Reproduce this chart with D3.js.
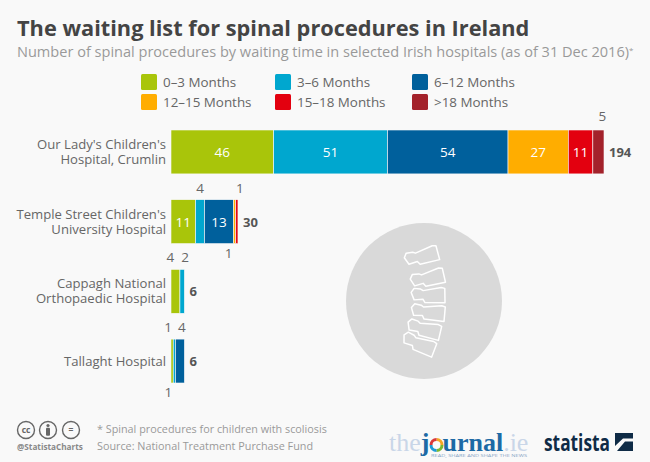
<!DOCTYPE html>
<html>
<head>
    <meta charset="utf-8">
    <title>The waiting list for spinal procedures in Ireland</title>
    <script src="https://cdnjs.cloudflare.com/ajax/libs/d3/7.8.5/d3.min.js"></script>
</head>
<style media="screen">
    html, body { margin: 0; padding: 0; background: #f9f9f9; }
    svg { display: block; }
    text { font-family: "Open Sans", sans-serif; }
</style>

<body>
    <script>
        var hospitals = ["crumlin", "temple", "cappagh", "tallaght"];
        var hospitalLines = [
            ["Our Lady's Children's", "Hospital, Crumlin"],
            ["Temple Street Children's", "University Hospital"],
            ["Cappagh National", "Orthopaedic Hospital"],
            ["Tallaght Hospital"]
        ];
        var waits = ["0–3 Months", "3–6 Months", "6–12 Months", "12–15 Months", "15–18 Months", ">18 Months"];
        var colors = ["#a9c50a", "#00a7cf", "#00609c", "#ffad00", "#e3000f", "#a3222b"];

        var v0to3 = [46, 11, 4, 1];
        var v3to6 = [51, 4, 2, 1];
        var v6to12 = [54, 13, 0, 4];
        var v12to15 = [27, 1, 0, 0];
        var v15to18 = [11, 1, 0, 0];
        var v18plus = [5, 0, 0, 0];
        var totals = [194, 30, 6, 6];

        var w = 650, h = 462;
        var svg = d3.select("body").append("svg").attr("width", w).attr("height", h);

        svg.append("text").attr("x", 17).attr("y", 36)
            .attr("font-size", 21.75).attr("font-weight", 700).attr("fill", "#444")
            .text("The waiting list for spinal procedures in Ireland");
        var subtitle = svg.append("text").attr("x", 17).attr("y", 57)
            .attr("font-size", 14.55).attr("fill", "#999")
            .text("Number of spinal procedures by waiting time in selected Irish hospitals (as of 31 Dec 2016)");
        subtitle.append("tspan").attr("font-size", 8).attr("dy", -4).text("*");

        // legend
        var legendX = d3.scaleOrdinal().domain([0, 1, 2]).range([141, 275, 412]);
        var legend = svg.selectAll(".legend").data(waits).enter().append("g")
            .attr("class", "legend")
            .attr("transform", function(d, i) {
                return "translate(" + legendX(i % 3) + "," + (i < 3 ? 74 : 94) + ")";
            });
        legend.append("rect").attr("width", 16).attr("height", 16).attr("rx", 1.5)
            .attr("fill", function(d, i) { return colors[i]; });
        legend.append("text").attr("x", 22).attr("y", 13)
            .attr("font-size", 13.4).attr("fill", "#666")
            .text(function(d) { return d; });

        // scales
        var x = d3.scaleLinear().domain([0, 194]).range([171, 604]);
        var y = d3.scaleBand().domain(hospitals).range([130, 383]).paddingInner(0.37);

        var table = hospitals.map(function(h, i) {
            return { key: h, a: v0to3[i], b: v3to6[i], c: v6to12[i], d: v12to15[i], e: v15to18[i], f: v18plus[i] };
        });
        var series = d3.stack().keys(["a", "b", "c", "d", "e", "f"])(table);

        var layers = svg.selectAll(".layer").data(series).enter().append("g")
            .attr("class", "layer")
            .attr("fill", function(d, i) { return colors[i]; });

        layers.selectAll("rect").data(function(d) { return d.filter(function(p) { return p[1] > p[0]; }); })
            .enter().append("rect")
            .attr("x", function(d) { return x(d[0]); })
            .attr("y", function(d) { return y(d.data.key); })
            .attr("width", function(d) { return x(d[1]) - x(d[0]); })
            .attr("height", y.bandwidth())
            .attr("stroke", "#f9f9f9")
            .attr("stroke-width", 0.6);

        // value labels: wide segments sit inside, the narrow ones above or below
        var labelPos = {
            crumlin: ["in", "in", "in", "in", "in", "above"],
            temple: ["in", "above", "in", "below", "above", ""],
            cappagh: ["above", "above", "", "", "", ""],
            tallaght: ["above", "below", "above", "", "", ""]
        };
        // small sideways nudges so that neighbouring labels do not collide
        var labelShift = {
            crumlin: [0, 0, 0, 0, 0, 4],
            temple: [0, 0, 0, -6, 3, 0],
            cappagh: [-5, 3, 0, 0, 0, 0],
            tallaght: [-4, -6, 2, 0, 0, 0]
        };

        series.forEach(function(s, si) {
            s.forEach(function(p) {
                var key = p.data.key, pos = labelPos[key][si];
                if (!pos || p[1] === p[0]) return;
                var ly = y(key) + y.bandwidth() / 2 + 5;
                if (pos === "above") ly = y(key) - (key === "crumlin" ? 9 : 7);
                if (pos === "below") ly = y(key) + y.bandwidth() + 14;
                svg.append("text")
                    .attr("x", x((p[0] + p[1]) / 2) + labelShift[key][si])
                    .attr("y", ly)
                    .attr("text-anchor", "middle")
                    .attr("font-size", 13.5)
                    .attr("fill", pos === "in" ? "#fff" : "#666")
                    .text(p[1] - p[0]);
            });
        });

        // totals
        svg.selectAll(".total").data(hospitals).enter().append("text")
            .attr("class", "total")
            .attr("x", function(d, i) { return x(totals[i]) + 5; })
            .attr("y", function(d) { return y(d) + y.bandwidth() / 2 + 5; })
            .attr("font-size", 13).attr("font-weight", 700).attr("fill", "#555")
            .text(function(d, i) { return totals[i]; });

        // hospital names
        var names = svg.selectAll(".name").data(hospitals).enter().append("text")
            .attr("class", "name")
            .attr("text-anchor", "end")
            .attr("font-size", 13.1).attr("fill", "#666")
            .attr("y", function(d, i) {
                var mid = y(d) + y.bandwidth() / 2;
                return hospitalLines[i].length === 2 ? mid - 3 : mid + 5;
            });
        names.each(function(d, i) {
            var t = d3.select(this), base = +t.attr("y");
            hospitalLines[i].forEach(function(line, j) {
                t.append("tspan").attr("x", 166).attr("y", base + j * 15).text(line);
            });
        });

        // spine icon
        var icon = svg.append("g").attr("transform", "translate(340,210)");
        icon.append("circle").attr("cx", 84).attr("cy", 91).attr("r", 78).attr("fill", "#d9d9d9");
        var vertebra = "M-19,3 L-17,-2 L-10,-3 L-7,-2 L11,-10 L15,-10 L19,5 L-2,10 L-5,7 L-14,10 Z";
        var spine = [[82, 45, 0], [88, 67, 2], [89, 84, 14], [89, 101, 20], [85, 118, 28], [80, 133, 36]];
        icon.selectAll(".vertebra").data(spine).enter().append("path")
            .attr("class", "vertebra")
            .attr("d", vertebra)
            .attr("transform", function(d) { return "translate(" + d[0] + "," + d[1] + ") rotate(" + d[2] + ") scale(0.93)"; })
            .attr("fill", "none").attr("stroke", "#fff").attr("stroke-width", 1.6).attr("stroke-linejoin", "round");

        // creative commons badges
        var badges = [["cc", 26], ["", 48], ["=", 71]];
        var badge = svg.selectAll(".badge").data(badges).enter().append("g")
            .attr("class", "badge")
            .attr("transform", function(d) { return "translate(" + d[1] + ",430)"; });
        badge.append("circle").attr("r", 8.5).attr("fill", "none").attr("stroke", "#666").attr("stroke-width", 1.4);
        badge.append("text").attr("y", 3).attr("text-anchor", "middle")
            .attr("font-size", 8.5).attr("font-weight", 700).attr("fill", "#666")
            .text(function(d) { return d[0]; });
        var person = svg.append("g").attr("transform", "translate(48,430)").attr("fill", "#666");
        person.append("circle").attr("cy", -4.5).attr("r", 1.6);
        person.append("rect").attr("x", -2).attr("y", -2.2).attr("width", 4).attr("height", 8).attr("rx", 1);
        svg.append("text").attr("x", 17).attr("y", 450)
            .attr("font-size", 8.2).attr("font-weight", 700).attr("fill", "#888")
            .text("@StatistaCharts");

        // footer
        svg.append("text").attr("x", 97).attr("y", 433)
            .attr("font-size", 10.8).attr("fill", "#999")
            .text("* Spinal procedures for children with scoliosis");
        svg.append("text").attr("x", 97).attr("y", 450)
            .attr("font-size", 10.8).attr("fill", "#999")
            .text("Source: National Treatment Purchase Fund");

        // thejournal.ie wordmark, the o is drawn as coloured rings
        var journal = svg.append("text").attr("x", 389).attr("y", 451)
            .attr("font-size", 26).attr("font-weight", 700).style("font-family", "Liberation Serif");
        journal.append("tspan").attr("fill", "#c9d6e8").attr("font-weight", 400).text("the");
        journal.append("tspan").attr("fill", "#1d6aa5").text("j");
        journal.append("tspan").attr("fill", "none").text("o");
        journal.append("tspan").attr("fill", "#1d6aa5").text("urnal");
        journal.append("tspan").attr("fill", "#c9d6e8").attr("font-weight", 400).text(".ie");
        var ringColors = ["#f5a623", "#7cb82f", "#1d9ad6", "#d9383a"];
        var ring = d3.arc().innerRadius(4).outerRadius(7);
        var ringG = svg.append("g").attr("transform", "translate(436.5,445)");
        ringG.selectAll("path").data(d3.pie().value(1)(ringColors)).enter().append("path")
            .attr("d", ring)
            .attr("fill", function(d) { return d.data; });
        svg.append("text").attr("x", 431).attr("y", 457)
            .attr("font-size", 4.2).attr("fill", "#8aa6c6")
            .attr("textLength", 96).attr("lengthAdjust", "spacingAndGlyphs")
            .text("READ, SHARE AND SHAPE THE NEWS");

        // statista wordmark
        svg.append("text").attr("x", 544).attr("y", 451)
            .attr("font-size", 23).attr("font-weight", 700).attr("fill", "#0f2b46")
            .attr("textLength", 66).attr("lengthAdjust", "spacingAndGlyphs")
            .text("statista");
        svg.append("rect").attr("x", 615).attr("y", 433).attr("width", 18).attr("height", 18).attr("fill", "#0f2b46");
        svg.append("path").attr("d", "M615,446 L623,438.5 L633,438.5 L633,441.5 L625,441.5 L617,451 L615,451 Z").attr("fill", "#f9f9f9");
    </script>
</body>

</html>
